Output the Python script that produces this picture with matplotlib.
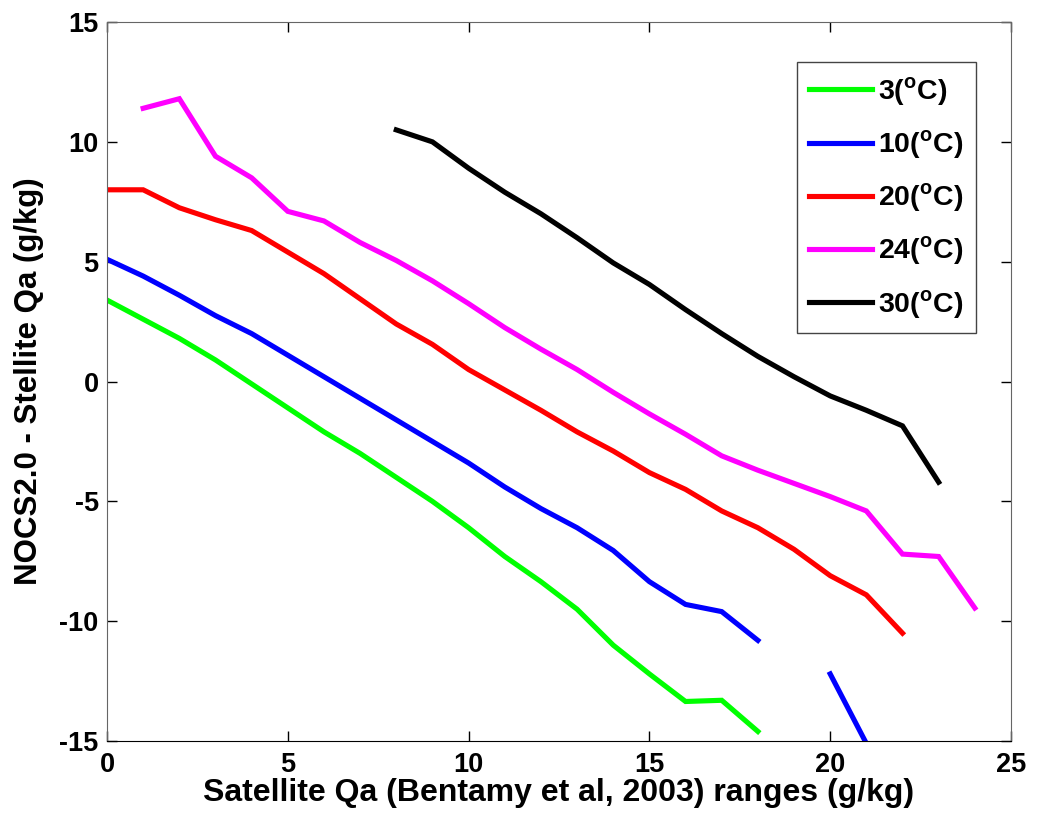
import numpy as np
import matplotlib
matplotlib.use('Agg')
import matplotlib.pyplot as plt

# ── data (NaN = gap in the series) ─────────────────────────────────────────
qa = np.arange(0, 25)

nan = np.nan
diff_3 = [3.4, 2.6, 1.8, 0.9, -0.1, -1.1, -2.1, -3.0, -4.0, -5.0, -6.1, -7.3,
          -8.35, -9.5, -11.0, -12.2, -13.35, -13.3, -14.6,
          nan, nan, nan, nan, nan, nan]
diff_10 = [5.1, 4.4, 3.6, 2.75, 2.0, 1.1, 0.2, -0.7, -1.6, -2.5, -3.4, -4.4,
           -5.3, -6.1, -7.05, -8.35, -9.3, -9.6, -10.8,
           nan, -12.2, -15.1, nan, nan, nan]
diff_20 = [8.0, 8.0, 7.25, 6.75, 6.3, 5.4, 4.5, 3.45, 2.4, 1.55, 0.5, -0.35,
           -1.2, -2.1, -2.9, -3.8, -4.5, -5.4, -6.1, -7.0, -8.1, -8.9, -10.5,
           nan, nan]
diff_24 = [nan, 11.4, 11.8, 9.4, 8.5, 7.1, 6.7, 5.8, 5.05, 4.2, 3.25, 2.25,
           1.35, 0.5, -0.45, -1.35, -2.2, -3.1, -3.7, -4.25, -4.8, -5.4,
           -7.2, -7.3, -9.45]
diff_30 = [nan] * 8 + [10.5, 10.0, 8.9, 7.9, 7.0, 6.0, 4.95, 4.05, 3.0, 2.0,
                       1.05, 0.2, -0.6, -1.2, -1.85, -4.2, nan]

series = [
    ('3($^{\\mathrm{o}}$C)', diff_3, '#00ff00'),
    ('10($^{\\mathrm{o}}$C)', diff_10, '#0000ff'),
    ('20($^{\\mathrm{o}}$C)', diff_20, '#ff0000'),
    ('24($^{\\mathrm{o}}$C)', diff_24, '#ff00ff'),
    ('30($^{\\mathrm{o}}$C)', diff_30, '#000000'),
]

# ── style ──────────────────────────────────────────────────────────────────
plt.rcParams['font.family'] = ['Liberation Sans', 'DejaVu Sans']
plt.rcParams['font.weight'] = 'bold'
plt.rcParams['axes.unicode_minus'] = False
plt.rcParams['mathtext.fontset'] = 'custom'
plt.rcParams['mathtext.rm'] = 'Liberation Sans:bold'
plt.rcParams['mathtext.bf'] = 'Liberation Sans:bold'

fig = plt.figure(figsize=(10.4, 8.22), dpi=100)
ax = fig.add_axes([0.1029, 0.0985, 0.8692, 0.8747])

for label, vals, col in series:
    ax.plot(qa, vals, color=col, lw=3.7, label=label, solid_joinstyle='miter')

ax.set_xlim(0, 25)
ax.set_ylim(-15, 15)
ax.set_xticks(np.arange(0, 26, 5))
ax.set_yticks(np.arange(-15, 16, 5))
ax.tick_params(direction='in', length=7, width=1, top=True, right=True,
               labelsize=19.5, colors='black')
ax.tick_params(axis='x', pad=8)
ax.tick_params(axis='y', pad=6)
for lab in ax.get_xticklabels() + ax.get_yticklabels():
    lab.set_fontweight('bold')

for side in ['left', 'top', 'right']:
    ax.spines[side].set_color('#666666')
ax.spines['bottom'].set_color('black')

ax.set_xlabel('Satellite Qa (Bentamy et al, 2003) ranges (g/kg)',
              fontsize=23, fontweight='bold', labelpad=0)
ax.set_ylabel('NOCS2.0 - Stellite Qa (g/kg)', fontsize=22.5,
              fontweight='bold', labelpad=11)

leg = ax.legend(loc='upper right', bbox_to_anchor=(0.961, 0.944),
                fontsize=20.5, fancybox=False, framealpha=1,
                edgecolor='#444444', handlelength=2.2, handletextpad=0.2,
                labelspacing=0.72, borderpad=0.45, borderaxespad=0)
leg.get_frame().set_linewidth(1.0)
for t in leg.get_texts():
    t.set_fontweight('bold')

fig.savefig('out.png', dpi=100)
